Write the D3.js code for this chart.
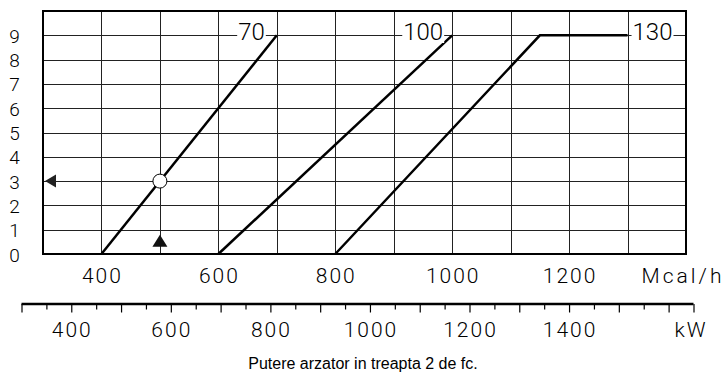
<!DOCTYPE html>
<html>
<head>
<meta charset="utf-8">
<script src="https://cdnjs.cloudflare.com/ajax/libs/d3/7.8.5/d3.min.js"></script>
<style>
  body { margin: 0; background: #fff; }
  svg { display: block; }
  .num { font-family: "Roboto", "Liberation Sans", Arial, sans-serif; font-weight: 300; fill: #000; }
</style>
</head>
<body>
<script>
'use strict';

// burner capacity (Mcal/h) axis
const mcalTicks = [400, 600, 800, 1000, 1200];
const mcalGrid = [400, 500, 600, 700, 800, 900, 1000, 1100, 1200, 1300];
// burner capacity (kW) axis
const kwTicks = [400, 600, 800, 1000, 1200, 1400];
// y axis values
const stageTicks = [0, 1, 2, 3, 4, 5, 6, 7, 8, 9];

// one line for each model
const curveNames = ["70", "100", "130"];
const curve70 = [[400, 0], [700, 9]];
const curve100 = [[600, 0], [1000, 9]];
const curve130 = [[800, 0], [1150, 9], [1300, 9]];

// operating point and markers
const opPoint = [500, 3];
const upMarker = [500, 0.55];
const leftMarker = [300, 3];

(function() {

  let svg = "";

  window.onload = function() {
    svg = d3.select('body')
      .append('svg')
      .attr('width', 726)
      .attr('height', 377);

    // scales
    let x = d3.scaleLinear().domain([300, 1400]).range([43, 686]);
    let y = d3.scaleLinear().domain([0, 10]).range([254, 11]);
    let xkw = d3.scaleLinear().domain([300, 1650]).range([21.5, 693.5]);

    drawGrid(x, y);
    drawCurves(x, y);
    drawMarkers(x, y);
    drawAxes(x, y, xkw);
  }

  // grid lines and frame
  function drawGrid(x, y) {
    svg.append('g')
      .selectAll('line')
      .data(mcalGrid)
      .enter()
      .append('line')
        .attr('x1', d => Math.round(x(d)) + 0.5)
        .attr('x2', d => Math.round(x(d)) + 0.5)
        .attr('y1', y(10))
        .attr('y2', y(0))
        .attr('stroke', '#222')
        .attr('stroke-width', 1);

    svg.append('g')
      .selectAll('line')
      .data(stageTicks.slice(1))
      .enter()
      .append('line')
        .attr('x1', x(300))
        .attr('x2', x(1400))
        .attr('y1', d => Math.round(y(d)) + 0.5)
        .attr('y2', d => Math.round(y(d)) + 0.5)
        .attr('stroke', '#222')
        .attr('stroke-width', 1);

    svg.append('rect')
      .attr('x', x(300))
      .attr('y', y(10))
      .attr('width', x(1400) - x(300))
      .attr('height', y(0) - y(10))
      .attr('fill', 'none')
      .attr('stroke', '#000')
      .attr('stroke-width', 2);
  }

  // model lines with their labels
  function drawCurves(x, y) {
    let line = d3.line()
      .x(d => x(d[0]))
      .y(d => y(d[1]));

    let curves = [curve70, curve100, curve130];

    svg.append('g')
      .selectAll('path')
      .data(curves)
      .enter()
      .append('path')
        .attr('d', line)
        .attr('fill', 'none')
        .attr('stroke', '#000')
        .attr('stroke-width', 2.5);

    // labels sit on the top grid line with a white box
    let labelPos = [
      {x: x(700) - 12, anchor: 'end'},
      {x: x(1000) - 9, anchor: 'end'},
      {x: x(1300) + 5, anchor: 'start'}
    ];

    curveNames.forEach((name, i) => {
      let g = svg.append('g');
      let t = g.append('text')
        .attr('class', 'num')
        .attr('x', labelPos[i].x)
        .attr('y', 40)
        .attr('text-anchor', labelPos[i].anchor)
        .style('font-size', '24px')
        .text(name);
      let b = t.node().getBBox();
      g.insert('rect', 'text')
        .attr('x', b.x - 1)
        .attr('y', b.y + 3)
        .attr('width', b.width + 2)
        .attr('height', b.height - 6)
        .attr('fill', '#fff');
    });
  }

  // operating point circle and triangles
  function drawMarkers(x, y) {
    svg.append('circle')
      .attr('cx', x(opPoint[0]))
      .attr('cy', y(opPoint[1]))
      .attr('r', 7)
      .attr('fill', '#fff')
      .attr('stroke', '#000')
      .attr('stroke-width', 1);

    let ux = x(upMarker[0]), uy = y(upMarker[1]);
    svg.append('path')
      .attr('d', `M${ux - 7.5},${uy + 6} L${ux + 7.5},${uy + 6} L${ux},${uy - 6} Z`)
      .attr('fill', '#111');

    let lx = x(leftMarker[0]) + 2, ly = y(leftMarker[1]);
    svg.append('path')
      .attr('d', `M${lx},${ly} L${lx + 11},${ly - 6.5} L${lx + 11},${ly + 6.5} Z`)
      .attr('fill', '#222');
  }

  // tick labels, kW axis and title
  function drawAxes(x, y, xkw) {
    svg.append('g')
      .selectAll('text')
      .data(stageTicks)
      .enter()
      .append('text')
        .attr('class', 'num')
        .attr('x', 14.5)
        .attr('y', d => y(d) + 7.5)
        .attr('text-anchor', 'middle')
        .style('font-size', '19px')
        .text(d => d);

    svg.append('g')
      .selectAll('text')
      .data(mcalTicks)
      .enter()
      .append('text')
        .attr('class', 'num')
        .attr('x', d => x(d) + 1)
        .attr('y', 283)
        .attr('text-anchor', 'middle')
        .style('font-size', '21px')
        .style('letter-spacing', '2px')
        .text(d => d);

    svg.append('text')
      .attr('class', 'num')
      .attr('x', 683)
      .attr('y', 283)
      .attr('text-anchor', 'middle')
      .style('font-size', '21px')
      .style('letter-spacing', '3px')
      .text('Mcal/h');

    // kW axis with major and minor ticks
    let axis = d3.axisBottom(xkw)
      .tickValues(d3.range(300, 1651, 50))
      .tickSize(0)
      .tickFormat('');

    let ga = svg.append('g')
      .attr('transform', 'translate(0, 304)')
      .call(axis);
    ga.select('.domain')
      .attr('d', `M${xkw(300)},0H${xkw(1650)}`)
      .attr('stroke', '#000')
      .attr('stroke-width', 2.5);
    ga.selectAll('.tick line')
      .attr('y2', d => (d % 100 === 0 || d === 1650) ? 8.5 : 5.5)
      .attr('stroke', '#000')
      .attr('stroke-width', 1.2);

    svg.append('g')
      .selectAll('text')
      .data(kwTicks)
      .enter()
      .append('text')
        .attr('class', 'num')
        .attr('x', d => xkw(d) + 1)
        .attr('y', 337)
        .attr('text-anchor', 'middle')
        .style('font-size', '21px')
        .style('letter-spacing', '2px')
        .text(d => d);

    svg.append('text')
      .attr('class', 'num')
      .attr('x', 691)
      .attr('y', 337)
      .attr('text-anchor', 'middle')
      .style('font-size', '21px')
      .style('letter-spacing', '2px')
      .text('kW');

    svg.append('text')
      .attr('x', 363)
      .attr('y', 369)
      .attr('text-anchor', 'middle')
      .style('font-family', '"Liberation Sans", Arial, sans-serif')
      .style('font-size', '16px')
      .text('Putere arzator in treapta 2 de fc.');
  }
})();
</script>
</body>
</html>
